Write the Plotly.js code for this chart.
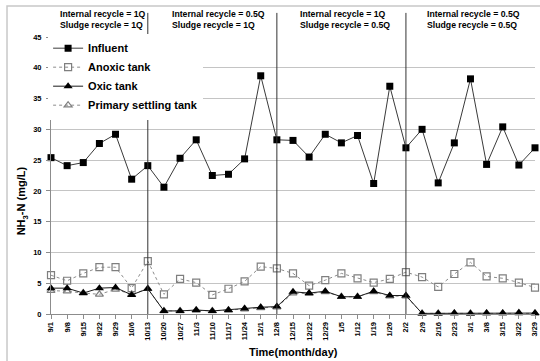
<!DOCTYPE html>
<html>
<head>
<meta charset="utf-8">
<script src="https://cdn.plot.ly/plotly-3.0.1.min.js"></script>
<style>
html,body{margin:0;padding:0;background:#fff;}
#chart{width:540px;height:361px;}
</style>
</head>
<body>
<div id="chart"></div>
<script>
const dates = ['9/1','9/8','9/15','9/22','9/29','10/6','10/13','10/20','10/27','11/3','11/10','11/17','11/24','12/1','12/8','12/15','12/22','12/29','1/5','1/12','1/19','1/26','2/2','2/9','2/16','2/23','3/1','3/8','3/15','3/22','3/29'];
const influent = [25.4,24.1,24.6,27.7,29.2,21.9,24.1,20.6,25.3,28.3,22.5,22.7,25.2,38.7,28.3,28.2,25.5,29.2,27.8,29.0,21.2,37.0,27.0,30.0,21.3,27.8,38.2,24.3,30.4,24.2,27.0];
const anoxic = [6.3,5.4,6.6,7.6,7.6,4.2,8.6,3.2,5.7,5.1,3.1,4.1,5.3,7.7,7.4,6.6,4.6,5.5,6.6,5.8,5.1,5.7,6.8,6.0,4.4,6.5,8.4,6.1,5.8,5.1,4.3];
const oxic = [4.2,4.2,3.4,4.2,4.3,3.1,4.1,0.5,0.5,0.65,0.5,0.65,0.9,1.1,1.2,3.6,3.4,3.7,2.8,2.8,3.7,3.0,3.0,0.1,0.1,0.15,0.1,0.15,0.15,0.2,0.15];
const primary = [3.8,3.7,3.4,3.2,4.0,3.2,4.1,0.5,0.5,0.6,0.5,0.6,0.8,1.0,1.1,3.4,3.3,3.6,2.8,2.8,3.6,2.9,2.9,0.1,0.1,0.1,0.1,0.1,0.1,0.15,0.1];
const seriesNames = ['Influent','Anoxic tank','Oxic tank','Primary settling tank'];
const phaseBreaks = ['10/13','12/8','2/2'];
const phaseLabels = [
  'Internal recycle = 1Q<br>Sludge recycle = 1Q',
  'Internal recycle = 0.5Q<br>Sludge recycle = 1Q',
  'Internal recycle = 1Q<br>Sludge recycle = 0.5Q',
  'Internal recycle = 0.5Q<br>Sludge recycle = 0.5Q'
];
const phaseLabelX = [0.0145, 0.246, 0.510, 0.773];

const F = '"Liberation Sans", Arial, sans-serif';

const traces = [
  {x: dates, y: influent, name: seriesNames[0], type: 'scatter', mode: 'lines+markers', cliponaxis: false,
   line: {color: '#3a3a3a', width: 1}, marker: {symbol: 'square', size: 7, color: '#000'}, legendrank: 1},
  {x: dates, y: anoxic, name: seriesNames[1], type: 'scatter', mode: 'lines+markers', cliponaxis: false,
   line: {color: '#8c8c8c', width: 1, dash: 'dot'}, marker: {symbol: 'square-open', size: 7, color: '#7f7f7f', line: {width: 1.2}}, legendrank: 2},
  {x: dates, y: primary, name: seriesNames[3], type: 'scatter', mode: 'lines+markers', cliponaxis: false,
   line: {color: '#8c8c8c', width: 1, dash: 'dot'}, marker: {symbol: 'triangle-up-open', size: 7, color: '#7f7f7f', line: {width: 1.2}}, legendrank: 4},
  {x: dates, y: oxic, name: seriesNames[2], type: 'scatter', mode: 'lines+markers', cliponaxis: false,
   line: {color: '#1a1a1a', width: 1}, marker: {symbol: 'triangle-up', size: 8, color: '#000'}, legendrank: 3}
];

const shapes = [
  {type: 'rect', xref: 'paper', yref: 'paper', x0: -0.0909, x1: 1.03, y0: -0.19, y1: 1.112,
   line: {color: '#c8c8c8', width: 1.5}, fillcolor: 'rgba(0,0,0,0)', layer: 'below'}
];
phaseBreaks.forEach(d => shapes.push({type: 'line', xref: 'x', yref: 'paper', x0: d, x1: d, y0: 0, y1: 1.087,
  line: {color: '#333', width: 1}, layer: 'above'}));

const annotations = phaseLabels.map((t, i) => ({
  text: t, xref: 'paper', yref: 'paper', x: phaseLabelX[i], y: 1.11, xanchor: 'left', yanchor: 'top',
  showarrow: false, align: 'left', font: {family: F, size: 8.7, color: '#000', weight: 'bold'}
}));
annotations.push({text: 'NH<sub>3</sub>-N (mg/L)', xref: 'paper', yref: 'paper', x: -0.058, y: 0.41,
  xanchor: 'center', yanchor: 'middle',
  textangle: -90, showarrow: false, font: {family: F, size: 11, color: '#000', weight: 'bold'}});
annotations.push({text: 'Time(month/day)', xref: 'paper', yref: 'paper', x: 0.502, y: -0.137,
  xanchor: 'center', yanchor: 'middle',
  showarrow: false, font: {family: F, size: 11, color: '#000', weight: 'bold'}});

const layout = {
  width: 540, height: 361,
  margin: {l: 51, r: 5, t: 37, b: 47},
  paper_bgcolor: '#fff', plot_bgcolor: '#fff',
  showlegend: true,
  legend: {x: -0.006, y: 1.012, xanchor: 'left', yanchor: 'top', bgcolor: '#fff', borderwidth: 0,
    font: {family: F, size: 11, color: '#000', weight: 'bold'}, tracegroupgap: 0, itemwidth: 30},
  xaxis: {type: 'category', range: [0, 30], showgrid: false, zeroline: false,
    showline: true, linecolor: '#8c8c8c', linewidth: 1,
    ticks: 'outside', ticklen: 4, tickcolor: '#8c8c8c', tickangle: -90, dtick: 1,
    tickfont: {family: F, size: 7.5, color: '#000', weight: 'bold'}},
  yaxis: {range: [0, 45], dtick: 5, showgrid: true, gridcolor: '#c4c4c4', gridwidth: 1, zeroline: false,
    showline: true, linecolor: '#8c8c8c', linewidth: 1,
    ticks: 'outside', ticklen: 4, tickcolor: '#8c8c8c', ticklabelstandoff: 3,
    tickfont: {family: F, size: 7.5, color: '#000', weight: 'bold'}},
  shapes: shapes,
  annotations: annotations
};

Plotly.newPlot('chart', traces, layout, {displayModeBar: false, staticPlot: true});
</script>
</body>
</html>
